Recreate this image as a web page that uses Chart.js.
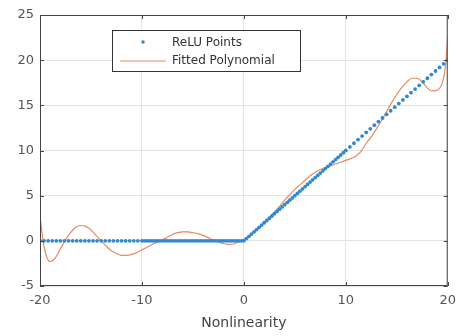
<!DOCTYPE html>
<html>
<head>
<meta charset="utf-8">
<script src="https://cdn.jsdelivr.net/npm/chart.js@4"></script>
<style>
body{margin:0;background:#fff;}
#box{width:463px;height:336px;}
</style>
</head>
<body>
<div id="box"><canvas id="graf" width="463" height="336"></canvas></div>
<script>
// punti ReLU
var reluX=[-20,-19.6,-19.2,-18.8,-18.4,-18,-17.6,-17.2,-16.8,-16.4,-16,-15.6,-15.2,-14.8,-14.4,-14,-13.6,-13.2,-12.8,-12.4,-12,-11.6,-11.2,-10.8,-10.4,
  -10,-9.75,-9.5,-9.25,-9,-8.75,-8.5,-8.25,-8,-7.75,-7.5,-7.25,-7,-6.75,-6.5,-6.25,-6,-5.75,-5.5,-5.25,-5,-4.75,-4.5,-4.25,-4,-3.75,-3.5,-3.25,-3,-2.75,-2.5,-2.25,-2,-1.75,-1.5,-1.25,-1,-0.75,-0.5,-0.25,0,
  0.25,0.5,0.75,1,1.25,1.5,1.75,2,2.25,2.5,2.75,3,3.25,3.5,3.75,4,4.25,4.5,4.75,5,5.25,5.5,5.75,6,6.25,6.5,6.75,7,7.25,7.5,7.75,8,8.25,8.5,8.75,9,9.25,9.5,9.75,10,
  10.4,10.8,11.2,11.6,12,12.4,12.8,13.2,13.6,14,14.4,14.8,15.2,15.6,16,16.4,16.8,17.2,17.6,18,18.4,18.8,19.2,19.6,20];
var reluY=[0,0,0,0,0,0,0,0,0,0,0,0,0,0,0,0,0,0,0,0,0,0,0,0,0,
  0,0,0,0,0,0,0,0,0,0,0,0,0,0,0,0,0,0,0,0,0,0,0,0,0,0,0,0,0,0,0,0,0,0,0,0,0,0,0,0,0,
  0.25,0.5,0.75,1,1.25,1.5,1.75,2,2.25,2.5,2.75,3,3.25,3.5,3.75,4,4.25,4.5,4.75,5,5.25,5.5,5.75,6,6.25,6.5,6.75,7,7.25,7.5,7.75,8,8.25,8.5,8.75,9,9.25,9.5,9.75,10,
  10.4,10.8,11.2,11.6,12,12.4,12.8,13.2,13.6,14,14.4,14.8,15.2,15.6,16,16.4,16.8,17.2,17.6,18,18.4,18.8,19.2,19.6,20];

// polinomio
var polyX=[-20,-19.7,-19.4,-19,-18.5,-18,-17.5,-17,-16.5,-16,-15.5,-15,-14.5,-14,-13.5,-13,-12.5,-12,-11.5,-11,-10.5,-10,-9.5,-9,-8.5,-8,-7.5,-7,-6.5,-6,-5.5,-5,-4.5,-4,-3.5,-3,-2.5,-2,-1.5,-1,-0.5,0,
  0.5,1,1.5,2,2.5,3,3.5,4,4.5,5,5.5,6,6.5,7,7.5,8,8.5,9,9.5,10,10.5,11,11.5,12,12.5,13,13.5,14,14.5,15,15.5,16,16.5,17,17.5,18,18.5,19,19.5,19.8,20];
var polyY=[2.8,0,-1.6,-2.3,-1.9,-0.9,0.1,0.9,1.5,1.7,1.6,1.2,0.6,0,-0.6,-1.1,-1.4,-1.6,-1.6,-1.5,-1.3,-1,-0.7,-0.4,-0.15,0.1,0.4,0.7,0.9,1,1,0.9,0.8,0.6,0.35,0.1,-0.1,-0.3,-0.4,-0.35,-0.1,0.2,
  0.5,1,1.5,2,2.6,3.2,3.8,4.5,5.1,5.7,6.2,6.7,7.2,7.6,7.9,8.1,8.3,8.5,8.7,8.9,9.1,9.4,9.9,10.8,11.5,12.4,13.3,14.3,15.3,16.2,17,17.6,18,18,17.6,16.9,16.6,16.7,17.6,19.5,22.6];

var xTicks=[-20,-10,0,10,20];
var yTicks=[-5,0,5,10,15,20,25];

function zip(a,b){
    var out=[];
    for(var i=0;i<a.length;i++) out.push({x:a[i],y:b[i]});
    return out;
}

var BLU="#3189d2";
var ARA="#e38c64";
var FONT="'DejaVu Sans', sans-serif";

// cornice e legenda stile matlab
var cornice={
    id:"cornice",
    afterDraw:function(ch){
        var c=ch.ctx, a=ch.chartArea;
        c.save();
        c.strokeStyle="#444";
        c.lineWidth=1;
        c.strokeRect(a.left+0.5,a.top+0.5,a.right-a.left-1,a.bottom-a.top-1);
        // tacche interne
        var xs=ch.scales.x, ys=ch.scales.y;
        c.beginPath();
        for(var i=0;i<xTicks.length;i++){
            var px=Math.round(xs.getPixelForValue(xTicks[i]))+0.5;
            c.moveTo(px,a.bottom); c.lineTo(px,a.bottom-4);
            c.moveTo(px,a.top); c.lineTo(px,a.top+4);
        }
        for(var j=0;j<yTicks.length;j++){
            var py=Math.round(ys.getPixelForValue(yTicks[j]))+0.5;
            c.moveTo(a.left,py); c.lineTo(a.left+4,py);
            c.moveTo(a.right,py); c.lineTo(a.right-4,py);
        }
        c.stroke();
        // legenda
        var lx=112, ly=30, lw=188, lh=41;
        c.fillStyle="#fff";
        c.fillRect(lx,ly,lw,lh);
        c.strokeStyle="#333";
        c.strokeRect(lx+0.5,ly+0.5,lw,lh);
        c.fillStyle=BLU;
        c.beginPath(); c.arc(143,42,1.8,0,Math.PI*2); c.fill();
        c.strokeStyle=ARA;
        c.beginPath(); c.moveTo(120,61); c.lineTo(166,61); c.stroke();
        c.fillStyle="#333";
        c.font="12px "+FONT;
        c.textBaseline="middle";
        c.fillText(ch.data.datasets[0].label,172,43);
        c.fillText(ch.data.datasets[1].label,172,61);
        c.restore();
    }
};

var grafico=new Chart("graf",{
    type:"scatter",
    data:{
        datasets:[{
            label:"ReLU Points",
            data:zip(reluX,reluY),
            showLine:false,
            pointRadius:1.9,
            pointBorderWidth:0,
            backgroundColor:BLU,
            borderColor:BLU
        },{
            label:"Fitted Polynomial",
            data:zip(polyX,polyY),
            showLine:true,
            pointRadius:0,
            borderWidth:1.2,
            borderColor:ARA,
            tension:0.4,
            cubicInterpolationMode:"monotone"
        }]
    },
    plugins:[cornice],
    options:{
        responsive:false,
        animation:false,
        layout:{padding:{top:15,right:11,left:0,bottom:0}},
        plugins:{legend:{display:false},tooltip:{enabled:false}},
        scales:{
            x:{
                type:"linear",min:-20,max:20,
                afterBuildTicks:function(s){s.ticks=xTicks.map(function(v){return {value:v};});},
                afterFit:function(s){s.height=50;},
                grid:{color:"#e4e4e4",drawTicks:false},
                border:{display:false},
                ticks:{color:"#555",font:{family:FONT,size:13},padding:7,maxRotation:0},
                title:{display:true,text:"Nonlinearity",color:"#444",font:{family:FONT,size:14},padding:{top:3}}
            },
            y:{
                type:"linear",min:-5,max:25,
                afterBuildTicks:function(s){s.ticks=yTicks.map(function(v){return {value:v};});},
                afterFit:function(s){s.width=40;},
                grid:{color:"#e4e4e4",drawTicks:false},
                border:{display:false},
                ticks:{color:"#555",font:{family:FONT,size:13},padding:6}
            }
        }
    }
});
</script>
</body>
</html>
